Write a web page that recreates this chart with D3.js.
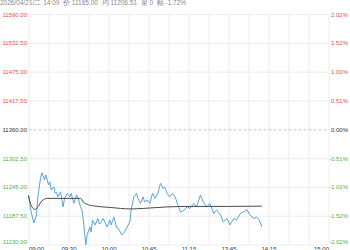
<!DOCTYPE html>
<html>
<head>
<meta charset="utf-8">
<script src="https://cdn.jsdelivr.net/npm/d3@7"></script>
<style>
  body { margin: 0; background: #fff; }
  svg { display: block; font-family: Arial, "Liberation Sans", sans-serif; }
</style>
</head>
<body>
<script>
// trading minutes since 09:00 (09:00-10:15, 10:30-11:30, 13:30-15:00)
const priceMin = [0, 2, 4, 6, 7, 9, 10, 12, 13, 15, 16, 17, 19, 20, 21, 22, 24, 26, 27, 29, 31, 32, 34, 36, 37, 39, 40, 41, 42, 43, 44, 46, 47, 48, 50, 52, 53,
  54, 56, 59, 61, 62, 64, 66, 68, 70, 72, 74, 76, 77, 79, 81, 82, 84, 86, 87, 89, 91, 93, 95, 97, 99, 101, 102, 104, 106, 108, 110, 112,
  114, 116, 119, 121, 124, 126, 129, 131, 134, 136, 139, 141, 144, 146, 149, 151, 154, 156, 159, 161, 164, 166, 169, 171, 173, 175];
const priceVal = [11228, 11195, 11173, 11189, 11225, 11262, 11273, 11259, 11269, 11249, 11255, 11239, 11245, 11232, 11235, 11225, 11235, 11205, 11222, 11232, 11225, 11232, 11212, 11229, 11225, 11205, 11199, 11182, 11155, 11129, 11149, 11165, 11155, 11179, 11169, 11182, 11172,
  11172, 11182, 11165, 11179, 11169, 11185, 11165, 11159, 11149, 11155, 11165, 11175, 11199, 11225, 11232, 11222, 11212, 11225, 11215, 11219, 11212, 11232, 11222, 11232, 11252, 11242, 11245, 11232, 11225, 11232, 11225, 11209,
  11195, 11197, 11205, 11202, 11212, 11205, 11229, 11215, 11205, 11212, 11192, 11199, 11189, 11175, 11182, 11169, 11182, 11179, 11192, 11195, 11199, 11189, 11182, 11185, 11179, 11165];

const avgMin = [0, 2, 5, 7, 10, 14, 25, 39, 41, 44, 49, 61, 77, 86, 104, 121, 150, 175];
const avgVal = [11228, 11208, 11200, 11205, 11217, 11222, 11222, 11222, 11215, 11210, 11207, 11204, 11201, 11202, 11205, 11206, 11206, 11206.5];

const priceTicks = [11590, 11532.5, 11475, 11417.5, 11360, 11302.5, 11245, 11187.5, 11130];
const pctLabels = ['2.02%', '1.52%', '1.01%', '0.51%', '0.00%', '-0.51%', '-1.01%', '-1.52%', '-2.02%'];
const timeTicks = [0, 30, 60, 90, 120, 150, 180, 225];
const timeLabels = ['09:00', '09:30', '10:00', '10:45', '11:15', '13:45', '14:15', '15:00'];
const preClose = 11360;
const header = '2026/04/21/二 14:09  价 11165.00  均 11206.51  量 0  幅 -1.72%';

const W = 350, H = 250;
const plotL = 28.5, plotR = 328.5, plotT = 14, plotB = 244.5;
const red = '#e4524a', green = '#4cb251', dark = '#333';

const x = d3.scaleLinear().domain([0, 225]).range([plotL, plotR]);
const y = d3.scaleLinear().domain([11130, 11590]).range([plotB, plotT]);

const svg = d3.select('body').append('svg')
  .attr('width', W)
  .attr('height', H);

svg.append('text')
  .attr('x', 0)
  .attr('y', 4.5)
  .attr('fill', '#8a8a8a')
  .style('font-size', '6.5px')
  .style('white-space', 'pre')
  .text(header);

// vertical grid
svg.append('g')
  .attr('transform', 'translate(0,' + plotB + ')')
  .call(d3.axisBottom(x).tickValues(d3.range(0, 226, 15)).tickSize(-(plotB - plotT)).tickFormat(''))
  .call(g => g.select('.domain').remove())
  .call(g => g.selectAll('line').attr('stroke', '#ececec'));

// horizontal grid + price labels
const colorOf = d => d > preClose ? red : d < preClose ? green : dark;
svg.append('g')
  .attr('transform', 'translate(' + plotL + ',0)')
  .call(d3.axisLeft(y).tickValues(priceTicks).tickSize(-(plotR - plotL)).tickPadding(1.5).tickFormat(d3.format('.2f')))
  .call(g => g.select('.domain').remove())
  .call(g => g.selectAll('line')
    .attr('stroke', d => d === preClose ? '#c8c8c8' : '#ececec')
    .attr('stroke-dasharray', d => d === preClose ? '3,2' : null))
  .call(g => g.selectAll('text')
    .style('font-size', '6px')
    .attr('fill', colorOf)
    .attr('dy', d => d === 11130 ? '-0.1em' : '0.35em'));

// percent labels
svg.append('g')
  .attr('transform', 'translate(' + (W - 2) + ',0)')
  .call(d3.axisRight(y).tickValues(priceTicks).tickSize(0).tickPadding(0).tickFormat((d, i) => pctLabels[i]))
  .call(g => g.select('.domain').remove())
  .call(g => g.selectAll('text')
    .style('font-size', '6px')
    .attr('text-anchor', 'end')
    .attr('fill', colorOf)
    .attr('dy', d => d === 11130 ? '-0.1em' : '0.35em'));

// time labels (cut by the bottom edge, as in the original)
svg.append('g')
  .attr('transform', 'translate(0,' + plotB + ')')
  .call(d3.axisBottom(x).tickValues(timeTicks).tickSize(0).tickPadding(2).tickFormat((d, i) => timeLabels[i]))
  .call(g => g.select('.domain').remove())
  .call(g => g.selectAll('text')
    .style('font-size', '6px')
    .attr('fill', dark)
    .attr('text-anchor', (d, i) => i === 0 ? 'start' : i === timeTicks.length - 1 ? 'end' : 'middle'));

const priceLine = d3.line()
  .x((d, i) => x(priceMin[i]))
  .y(d => y(d));

const avgLine = d3.line()
  .x((d, i) => x(avgMin[i]))
  .y(d => y(d))
  .curve(d3.curveMonotoneX);

svg.append('path')
  .datum(priceVal)
  .attr('fill', 'none')
  .attr('stroke', '#5ba3d6')
  .attr('stroke-width', 1)
  .attr('d', priceLine);

svg.append('path')
  .datum(avgVal)
  .attr('fill', 'none')
  .attr('stroke', '#4a4a4a')
  .attr('stroke-width', 1)
  .attr('d', avgLine);
</script>
</body>
</html>
